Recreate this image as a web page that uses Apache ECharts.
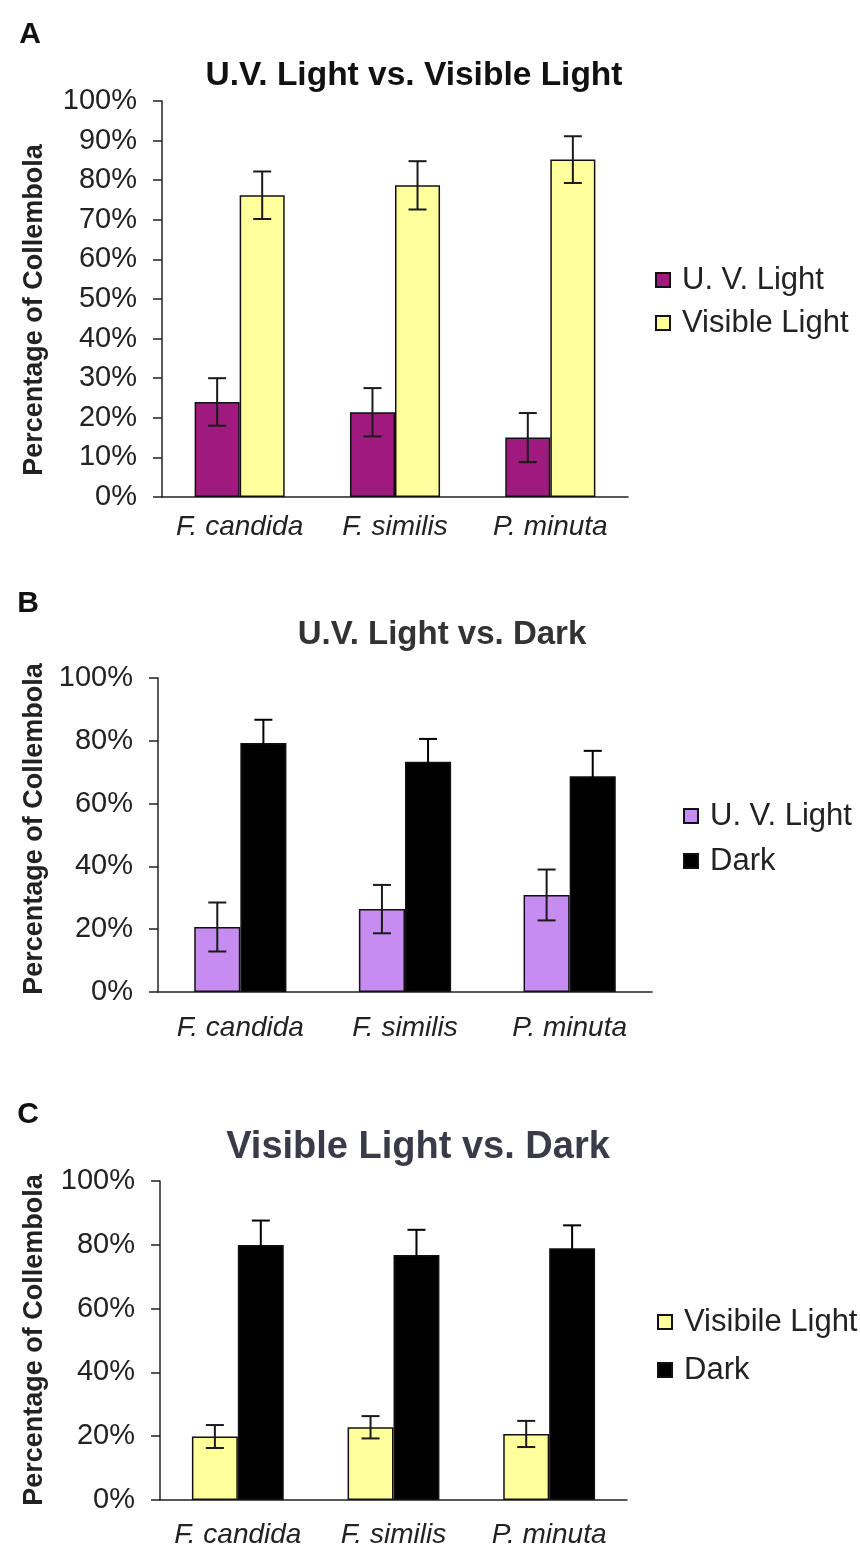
<!DOCTYPE html>
<html>
<head>
<meta charset="utf-8">
<script src="https://cdn.jsdelivr.net/npm/echarts@6/dist/echarts.min.js"></script>
<style>
html,body{margin:0;padding:0;background:#fff;}
#chart{width:860px;height:1549px;}
</style>
</head>
<body>
<div id="chart"></div>
<script>
// ---- data ----
const categories = ['F. candida', 'F. similis', 'P. minuta'];
const panelLetters = ['A', 'B', 'C'];
const panelTitles = ['U.V. Light vs. Visible Light', 'U.V. Light vs. Dark', 'Visible Light vs. Dark'];
const yAxisTitle = 'Percentage of Collembola';
const legendA = ['U. V. Light', 'Visible Light'];
const legendB = ['U. V. Light', 'Dark'];
const legendC = ['Visibile Light', 'Dark'];

const uvA = [24.0, 21.4, 15.0];
const uvAErr = [6.0, 6.1, 6.2];
const visA = [76.2, 78.7, 85.2];
const visAErr = [6.0, 6.1, 5.9];

const uvB = [20.7, 26.4, 30.9];
const uvBErr = [7.8, 7.7, 8.1];
const darkB = [79.3, 73.3, 68.7];
const darkBErr = [7.4, 7.3, 8.1];

const visC = [19.9, 22.8, 20.7];
const visCErr = [3.6, 3.5, 4.1];
const darkC = [79.9, 76.8, 78.9];
const darkCErr = [7.7, 7.9, 7.2];

// ---- styling ----
const FONT = '"Liberation Sans", Arial, Helvetica, sans-serif';
const C_UV = '#9e1a7e';
const C_VIS = '#ffff9c';
const C_UV2 = '#c68cf0';
const C_DARK = '#000000';

const grids = [
  {left: 162, top: 101, width: 466, height: 396},
  {left: 158, top: 678, width: 494, height: 314},
  {left: 160, top: 1181, width: 467, height: 322}
];
const barPct = [0.29, 0.28, 0.295];
const yInterval = [10, 20, 20];
const catMargin = [16, 22, 21];

function xAxisCfg(i) {
  return {
    type: 'category', gridIndex: i, data: categories,
    axisLine: {lineStyle: {color: '#222', width: 1.5}},
    axisTick: {show: false},
    axisLabel: {interval: 0, fontFamily: FONT, fontStyle: 'italic', fontSize: 28, color: '#222', margin: catMargin[i]}
  };
}
function yAxisCfg(i) {
  return {
    type: 'value', gridIndex: i, min: 0, max: 100, interval: yInterval[i],
    axisLine: {show: true, lineStyle: {color: '#222', width: 1.5}},
    axisTick: {show: true, length: 9, inside: false, lineStyle: {color: '#222', width: 1.5}},
    splitLine: {show: false},
    axisLabel: {fontFamily: FONT, fontSize: 29, color: '#222', margin: 25, formatter: '{value}%'}
  };
}
function barSeries(name, data, color, gi) {
  return {
    type: 'bar', name: name, xAxisIndex: gi, yAxisIndex: gi, data: data,
    barWidth: (barPct[gi] * 100) + '%', barGap: '0%',
    itemStyle: {color: color, borderColor: '#111', borderWidth: 1.5},
    emphasis: {disabled: true}
  };
}
function errSeries(vals, errs, sign, gi, color) {
  return {
    type: 'custom', xAxisIndex: gi, yAxisIndex: gi, z: 10, silent: true,
    encode: {x: 0, y: 1},
    data: vals.map((v, i) => [i, v, errs[i]]),
    renderItem: function (params, api) {
      const i = api.value(0), v = api.value(1), e = api.value(2);
      const band = api.size([1, 0])[0];
      const bw = band * barPct[gi];
      const c = api.coord([i, v]);
      const x = c[0] + sign * bw / 2;
      const yTop = api.coord([i, v + e])[1];
      const yBot = api.coord([i, v - e])[1];
      const cap = 9;
      const st = {stroke: color, lineWidth: 2};
      return {type: 'group', children: [
        {type: 'line', shape: {x1: x, y1: yTop, x2: x, y2: yBot}, style: st},
        {type: 'line', shape: {x1: x - cap, y1: yTop, x2: x + cap, y2: yTop}, style: st},
        {type: 'line', shape: {x1: x - cap, y1: yBot, x2: x + cap, y2: yBot}, style: st}
      ]};
    }
  };
}
function legendCfg(keys, labels, left, top, gap) {
  return {
    orient: 'vertical', left: left, top: top, itemGap: gap, padding: 0,
    itemWidth: 14, itemHeight: 14, icon: 'rect', selectedMode: false,
    data: keys,
    formatter: function (n) { return labels[keys.indexOf(n)]; },
    textStyle: {fontFamily: FONT, fontSize: 31, color: '#222', lineHeight: 32, padding: [0, 0, 0, 7]}
  };
}

const titlePos = [
  {x: 414, y: 76, size: 33.5, color: '#111'},
  {x: 442, y: 635, size: 33, color: '#333'},
  {x: 418, y: 1148, size: 38, color: '#3a3a48'}
];
const letterPos = [{x: 30, y: 35}, {x: 28, y: 604}, {x: 28, y: 1115}];
const namePos = [{x: 35, y: 310}, {x: 35, y: 829}, {x: 35, y: 1340}];

const graphics = [];
for (let i = 0; i < 3; i++) {
  graphics.push({type: 'text', x: letterPos[i].x, y: letterPos[i].y,
    style: {text: panelLetters[i], font: 'bold 30px ' + FONT, fill: '#111', align: 'center', verticalAlign: 'middle'}});
  graphics.push({type: 'text', x: titlePos[i].x, y: titlePos[i].y,
    style: {text: panelTitles[i], font: 'bold ' + titlePos[i].size + 'px ' + FONT, fill: titlePos[i].color,
      align: 'center', verticalAlign: 'middle'}});
  graphics.push({type: 'text', x: namePos[i].x, y: namePos[i].y, rotation: Math.PI / 2,
    style: {text: yAxisTitle, font: 'bold 27px ' + FONT, fill: '#222', align: 'center', verticalAlign: 'middle'}});
}

const option = {
  backgroundColor: '#fff',
  animation: false,
  grid: grids,
  xAxis: [xAxisCfg(0), xAxisCfg(1), xAxisCfg(2)],
  yAxis: [yAxisCfg(0), yAxisCfg(1), yAxisCfg(2)],
  legend: [
    legendCfg(['uvA', 'visA'], legendA, 655, 264, 11),
    legendCfg(['uvB', 'darkB'], legendB, 683, 800, 13),
    legendCfg(['visC', 'darkC'], legendC, 657, 1306, 16)
  ],
  graphic: graphics,
  series: [
    barSeries('uvA', uvA, C_UV, 0),
    barSeries('visA', visA, C_VIS, 0),
    errSeries(uvA, uvAErr, -1, 0, '#1a1a1a'),
    errSeries(visA, visAErr, 1, 0, '#1a1a1a'),
    barSeries('uvB', uvB, C_UV2, 1),
    barSeries('darkB', darkB, C_DARK, 1),
    errSeries(uvB, uvBErr, -1, 1, '#1a1a1a'),
    errSeries(darkB, darkBErr, 1, 1, '#000'),
    barSeries('visC', visC, C_VIS, 2),
    barSeries('darkC', darkC, C_DARK, 2),
    errSeries(visC, visCErr, -1, 2, '#1a1a1a'),
    errSeries(darkC, darkCErr, 1, 2, '#000')
  ]
};

const chart = echarts.init(document.getElementById('chart'), null, {renderer: 'canvas'});
chart.setOption(option);
</script>
</body>
</html>
